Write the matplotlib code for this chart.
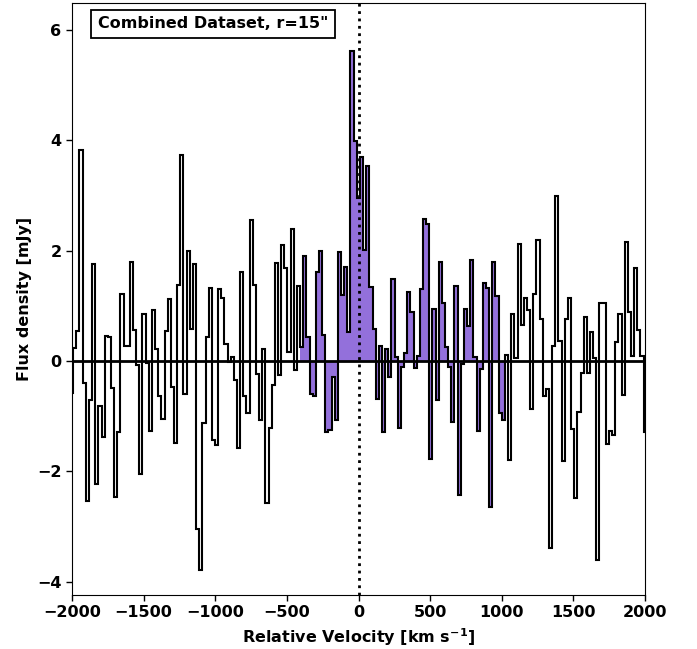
import numpy as np
import matplotlib
matplotlib.use('Agg')
import matplotlib.pyplot as plt

# channel setup (km/s)
V_START = -2014
CHANNEL_WIDTH = 22
FILL_RANGE = (-400, 1020)

# flux density per channel [mJy] left to right
flux = [
    -0.58, 0.24, 0.54, 3.82, -0.40, -2.54, -0.71, 1.76, -2.23, -0.82,
    -1.37, 0.45, 0.44, -0.48, -2.46, -1.29, 1.22, 0.28, 0.28, 1.79,
    0.56, -0.08, -2.05, 0.85, -0.04, -1.26, 0.92, 0.22, -0.63, -1.05,
    0.54, 1.12, -0.47, -1.49, 1.38, 3.74, -0.60, 1.99, 0.59, 1.76,
    -3.05, -3.79, -1.12, 0.43, 1.33, -1.43, -1.52, 1.30, 1.15, 0.31,
    -0.01, 0.07, -0.34, -1.57, 1.62, -0.63, -0.95, 2.55, 1.38, -0.24,
    -1.07, 0.21, -2.58, -1.22, -0.43, 1.78, -0.25, 2.10, 1.69, 0.16,
    2.39, -0.16, 1.36, 0.26, 1.90, 0.43, -0.60, -0.64, 1.62, 1.99,
    0.47, -1.28, -1.25, -0.28, -1.07, 1.97, 1.20, 1.70, 0.53, 5.62,
    3.99, 2.95, 3.70, 2.01, 3.53, 1.35, 0.59, -0.68, 0.27, -1.29,
    0.21, -0.28, 1.49, 0.08, -1.22, -0.11, 0.15, 1.26, 0.89, -0.13,
    0.10, 1.31, 2.58, 2.48, -1.78, 0.94, -0.71, 1.80, 1.06, 0.26,
    -0.10, -1.10, 1.36, -2.43, -0.06, 0.94, 0.63, 1.83, 0.08, -1.27,
    -0.15, 1.41, 1.32, -2.65, 1.80, 1.18, -0.94, -1.07, 0.11, -1.79,
    0.85, 0.05, 2.12, 0.65, 1.14, 0.92, -0.86, 1.21, 2.19, 0.77,
    -0.63, -0.51, -3.39, 0.27, 2.99, 0.36, -1.81, 0.77, 1.15, -1.24,
    -2.48, -0.92, -0.22, 0.79, -0.21, 0.52, 0.05, -3.61, 1.06, 1.06,
    -1.50, -1.27, -1.34, 0.35, 0.85, -0.62, 2.15, 0.89, 0.09, 1.68,
    0.57, 0.09, -1.28,
]

x_ticks = [-2000, -1500, -1000, -500, 0, 500, 1000, 1500, 2000]
y_ticks = [-4, -2, 0, 2, 4, 6]
label_text = 'Combined Dataset, r=15"'

plt.rcParams['font.weight'] = 'bold'
plt.rcParams['axes.labelweight'] = 'bold'
plt.rcParams['mathtext.default'] = 'bf'

flux = np.array(flux)
edges = V_START + CHANNEL_WIDTH * np.arange(len(flux) + 1)
centers = 0.5 * (edges[:-1] + edges[1:])

fig = plt.figure(figsize=(6.97, 6.49), dpi=100)
ax = fig.add_axes([0.1033, 0.0832, 0.8221, 0.9122])

# shaded line region
sel = np.where((centers > FILL_RANGE[0]) & (centers < FILL_RANGE[1]))[0]
i0, i1 = sel[0], sel[-1] + 1
ax.stairs(flux[i0:i1], edges[i0:i1 + 1], baseline=0, fill=True,
          color='#9370DB', linewidth=0, zorder=1)
ax.stairs(flux, edges, baseline=None, color='black', linewidth=1.5, zorder=2)

ax.axhline(0, color='black', linewidth=2, zorder=3)
ax.axvline(0, color='black', linestyle=':', linewidth=2, zorder=3)

ax.set_xlim(-2000, 2000)
ax.set_ylim(-4.24, 6.49)
ax.set_xticks(x_ticks)
ax.set_yticks(y_ticks)
ax.tick_params(labelsize=11.5, length=4, width=1)
ax.set_xlabel(r'Relative Velocity [km s$^{-1}$]', fontsize=11.5)
ax.set_ylabel('Flux density [mJy]', fontsize=11.5)

ax.text(0.045, 0.965, label_text, transform=ax.transAxes, ha='left', va='center',
        fontsize=11.5, fontweight='bold',
        bbox=dict(boxstyle='square,pad=0.4', facecolor='white', edgecolor='black', linewidth=1.3))

fig.savefig('out.png', dpi=100)
